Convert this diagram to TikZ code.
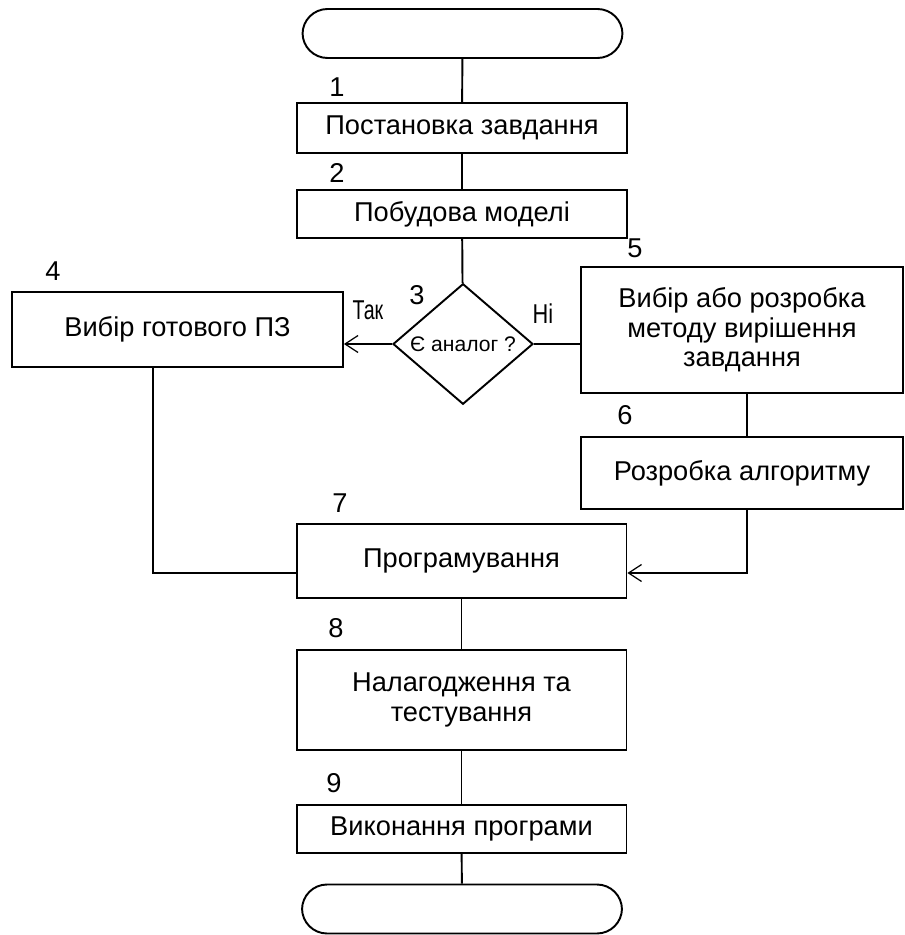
\documentclass[tikz,border=0pt]{standalone}
\usepackage{fontspec}
\setmainfont{Liberation Sans}
\usetikzlibrary{shapes.geometric,arrows.meta}

\tikzset{
	box/.style={draw, line width=1.1pt, inner sep=0pt, align=center, font=\fontsize{15.5}{16.8}\selectfont},
	term/.style={draw, line width=1.1pt, rounded corners=0.5cm, minimum width=6.4cm, minimum height=0.98cm},
	decision/.style={draw, diamond, line width=1.1pt, inner sep=0pt, minimum width=2.8cm, minimum height=2.12cm, font=\fontsize{12}{13}\selectfont},
	num/.style={inner sep=0pt, font=\fontsize{15.5}{16.8}\selectfont},
	line/.style={line width=1.1pt},
	arr/.style={line width=1.1pt, -{Straight Barb[length=2.6mm, width=3.4mm, line width=0.7pt]}}
}

\begin{document}
\begin{tikzpicture}[x=0.02cm, y=-0.02cm]
			%%%%% START %%%%%
			\useasboundingbox (0, 0) rectangle (904, 935);
			
			\node[term] (start) at (462.5, 33.5) {};
			\node[box, minimum width=6.6cm, minimum height=1.0cm] (task) at (462, 128) {Постановка завдання};
			\node[box, minimum width=6.6cm, minimum height=0.96cm] (model) at (462, 214) {Побудова моделі};
			\node[decision] (analog) at (463, 344) {Є аналог ?};
			\node[box, minimum width=6.62cm, minimum height=1.5cm] (ready) at (177.5, 329.5) {Вибір готового ПЗ};
			\node[box, minimum width=6.44cm, minimum height=2.52cm] (method) at (742, 330) {Вибір або розробка\\методу вирішення\\завдання};
			\node[box, minimum width=6.44cm, minimum height=1.44cm] (algo) at (742, 473) {Розробка алгоритму};
			\node[box, minimum width=6.6cm, minimum height=1.48cm] (prog) at (461.5, 561) {Програмування};
			\node[box, minimum width=6.6cm, minimum height=2.0cm] (debug) at (461.5, 700) {Налагодження та\\тестування};
			\node[box, minimum width=6.6cm, minimum height=0.96cm] (run) at (461.5, 829) {Виконання програми};
			\node[term] (stop) at (462, 909) {};
			
			% step numbers
			\node[num] (n1) at (337, 87) {1};
			\node[num] (n2) at (337, 173) {2};
			\node[num] (n3) at (417, 295) {3};
			\node[num] (n4) at (53, 271) {4};
			\node[num] (n5) at (635, 248) {5};
			\node[num] (n6) at (625, 415) {6};
			\node[num] (n7) at (340, 503) {7};
			\node[num] (n8) at (336, 628) {8};
			\node[num] (n9) at (334, 783) {9};
			
			\node[num] (yes) at (368, 310) {\scalebox{0.72}[1]{Так}};
			\node[num] (no) at (543, 314) {\scalebox{0.8}[1]{Ні}};
			
			\coordinate (left) at (153, 573);
			\coordinate (right) at (747, 573);
			
			\draw[line] (start) -- (task);
			\draw[line] (task) -- (model);
			\draw[line] (model) -- (analog);
			\draw[arr] (analog.west) -- (analog.west -| ready.east);
			\draw[line] (analog.east) -- (analog.east -| method.west);
			\draw[line] (right |- method.south) -- (right |- algo.north);
			\draw[arr] (right |- algo.south) -- (right) -- (right -| prog.east);
			\draw[line] (left |- ready.south) -- (left) -- (left -| prog.west);
			\draw[line] (prog) -- (debug);
			\draw[line] (debug) -- (run);
			\draw[line] (run) -- (stop);
			
			%%%%% END %%%%%
\end{tikzpicture}
\end{document}
